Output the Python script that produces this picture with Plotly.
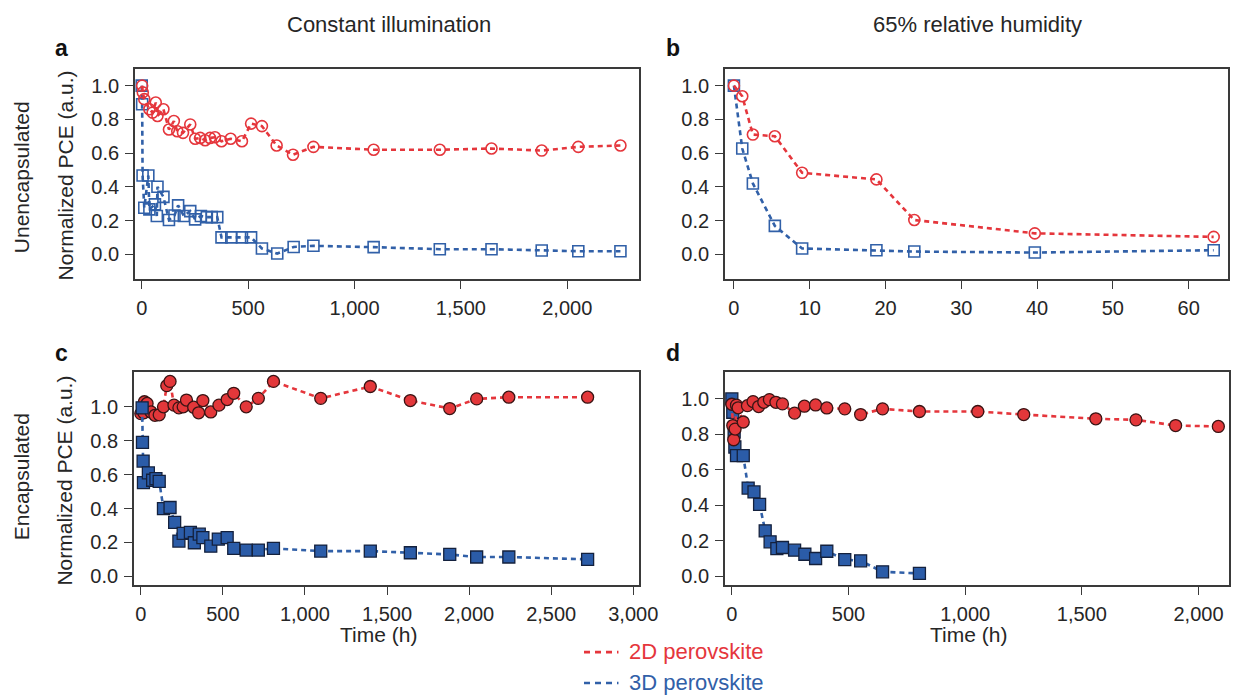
import plotly.graph_objects as go

W, H = 1252, 696

# ---- data: normalized PCE versus time ----
# a: unencapsulated, constant illumination
a_2d_t = [2, 5, 12, 36, 51, 66, 74, 102, 128, 151, 167, 194, 228, 251, 275, 298, 321, 344, 375,
          418, 471, 514, 565, 634, 711, 807, 1090, 1401, 1644, 1880, 2052, 2250]
a_2d_v = [1.0, 0.96, 0.92, 0.86, 0.84, 0.90, 0.82, 0.86, 0.74, 0.79, 0.73, 0.72, 0.77, 0.685, 0.69,
          0.676, 0.69, 0.694, 0.67, 0.685, 0.67, 0.775, 0.76, 0.645, 0.59, 0.637, 0.62, 0.62, 0.627,
          0.615, 0.637, 0.645]
a_3d_t = [0, 2, 4, 12, 31, 36, 62, 71, 74, 102, 128, 154, 171, 198, 228, 251, 278, 306, 329, 355,
          375, 421, 471, 514, 565, 637, 714, 807, 1090, 1401, 1644, 1880, 2052, 2250]
a_3d_v = [1.0, 0.89, 0.467, 0.276, 0.467, 0.266, 0.296, 0.227, 0.40, 0.34, 0.203, 0.23, 0.29, 0.227,
          0.256, 0.207, 0.227, 0.22, 0.22, 0.22, 0.10, 0.10, 0.10, 0.10, 0.034, 0.004, 0.043, 0.05,
          0.042, 0.03, 0.03, 0.022, 0.018, 0.018]

# b: unencapsulated, 65% relative humidity
b_2d_t = [0, 1.1, 2.5, 5.4, 9.0, 18.8, 23.8, 39.7, 63.3]
b_2d_v = [1.0, 0.937, 0.71, 0.70, 0.483, 0.444, 0.203, 0.124, 0.103]
b_3d_t = [0, 1.1, 2.5, 5.4, 9.0, 18.8, 23.8, 39.7, 63.3]
b_3d_v = [1.0, 0.627, 0.42, 0.168, 0.034, 0.024, 0.016, 0.01, 0.024]

# c: encapsulated, constant illumination
c_2d_t = [0, 12, 18, 22, 38, 62, 86, 112, 138, 158, 178, 202, 232, 258, 278, 322, 352, 378, 426,
          476, 526, 566, 642, 716, 808, 1096, 1398, 1642, 1882, 2046, 2242, 2722]
c_2d_v = [0.96, 0.99, 0.965, 1.03, 1.02, 0.97, 0.95, 0.953, 1.0, 1.125, 1.15, 1.01, 0.994, 1.0,
          1.04, 0.998, 0.965, 1.037, 0.97, 1.01, 1.043, 1.08, 1.0, 1.05, 1.15, 1.05, 1.12, 1.037,
          0.99, 1.047, 1.057, 1.057]
c_3d_t = [8, 10, 14, 16, 46, 72, 92, 112, 138, 178, 206, 232, 258, 302, 326, 356, 378, 426, 472,
          526, 566, 642, 716, 808, 1096, 1398, 1642, 1882, 2046, 2242, 2722]
c_3d_v = [0.994, 0.79, 0.68, 0.553, 0.61, 0.567, 0.576, 0.56, 0.40, 0.406, 0.318, 0.208, 0.253,
          0.259, 0.198, 0.249, 0.228, 0.178, 0.22, 0.228, 0.165, 0.155, 0.155, 0.165, 0.149, 0.149,
          0.139, 0.129, 0.114, 0.114, 0.10]

# d: encapsulated, 65% relative humidity
d_2d_t = [0, 4, 8, 14, 20, 27, 49, 67, 91, 115, 137, 161, 189, 217, 269, 311, 359, 407, 484, 552,
          646, 804, 1054, 1251, 1560, 1732, 1902, 2085]
d_2d_v = [0.97, 0.85, 0.77, 0.83, 0.965, 0.95, 0.87, 0.962, 0.985, 0.957, 0.981, 0.996, 0.981,
          0.972, 0.92, 0.959, 0.966, 0.949, 0.944, 0.912, 0.944, 0.929, 0.929, 0.912, 0.888, 0.882,
          0.85, 0.845]
d_3d_t = [0, 4, 10, 13, 20, 49, 70, 95, 119, 143, 164, 193, 217, 269, 313, 359, 407, 484, 552,
          646, 804]
d_3d_v = [1.0, 0.925, 0.813, 0.729, 0.68, 0.68, 0.498, 0.476, 0.406, 0.257, 0.195, 0.157, 0.163,
          0.148, 0.125, 0.101, 0.142, 0.095, 0.088, 0.026, 0.017]

col_titles = ["Constant illumination", "65% relative humidity"]
row_titles = ["Unencapsulated", "Encapsulated"]
series_names = ["2D perovskite", "3D perovskite"]
y_ticks = [0.0, 0.2, 0.4, 0.6, 0.8, 1.0]

RED = "#e5363c"
BLUE = "#3160a8"
RED_FILL = "#e3373a"
BLUE_FILL = "#2b5ca8"
INK = "#262626"
FONT = "Liberation Sans, Arial, sans-serif"


def px_x(x):
    return x / W


def px_y(y):
    return 1 - y / H


# panel frames in pixels: (left, right, top, bottom)
frames = {
    "a": (137, 649, 69, 280),
    "b": (736, 1247, 69, 280),
    "c": (136, 649, 373, 587),
    "d": (736, 1248, 373, 587),
}
ranges = {
    "a": dict(x=[-32, 2338], y=[-0.148, 1.10], dtick=500),
    "b": dict(x=[-1.2, 65.2], y=[-0.148, 1.10], dtick=10),
    "c": dict(x=[-42, 3036], y=[-0.053, 1.206], dtick=500),
    "d": dict(x=[-30, 2131], y=[-0.05, 1.152], dtick=500),
}

fig = go.Figure()


def dashed(t, v, color, xa, ya, symbol, filled):
    if filled:
        marker = dict(symbol=symbol, size=12,
                      color=RED_FILL if color == RED else BLUE_FILL,
                      line=dict(color="#3a1414" if color == RED else "#14213d", width=1.3))
    else:
        marker = dict(symbol=symbol + "-open", size=11, color=color, line=dict(width=1.6))
    fig.add_trace(go.Scatter(
        x=t, y=v, mode="lines+markers", xaxis=xa, yaxis=ya, showlegend=False,
        line=dict(color=color, width=2.6, dash="5px,4px"), marker=marker))


panels = [
    ("a", "x", "y", a_2d_t, a_2d_v, a_3d_t, a_3d_v, False, True),
    ("b", "x2", "y2", b_2d_t, b_2d_v, b_3d_t, b_3d_v, False, True),
    ("c", "x3", "y3", c_2d_t, c_2d_v, c_3d_t, c_3d_v, True, False),
    ("d", "x4", "y4", d_2d_t, d_2d_v, d_3d_t, d_3d_v, True, True),
]

axis_common = dict(
    showline=True, mirror=True, linecolor="#3a3a3a", linewidth=1.5,
    ticks="outside", ticklen=8, tickwidth=1.3, tickcolor="#3a3a3a",
    showgrid=False, zeroline=False,
    tickfont=dict(family=FONT, size=20, color=INK),
)

for key, xa, ya, t2, v2, t3, v3, filled, red_top in panels:
    if red_top:
        dashed(t3, v3, BLUE, xa, ya, "square", filled)
        dashed(t2, v2, RED, xa, ya, "circle", filled)
    else:
        dashed(t2, v2, RED, xa, ya, "circle", filled)
        dashed(t3, v3, BLUE, xa, ya, "square", filled)

    l, r, t, b = frames[key]
    rg = ranges[key]
    xname = "xaxis" if xa == "x" else "xaxis" + xa[1:]
    yname = "yaxis" if ya == "y" else "yaxis" + ya[1:]
    fig.update_layout(**{
        xname: dict(axis_common, domain=[px_x(l), px_x(r)], range=rg["x"], anchor=ya,
                    dtick=rg["dtick"], tick0=0, tickformat=",d", ticklabelstandoff=2),
        yname: dict(axis_common, domain=[px_y(b), px_y(t)], range=rg["y"], anchor=xa,
                    tickmode="array", tickvals=y_ticks, tickformat=".1f",
                    ticklabelstandoff=2),
    })

ann = []


def text(x, y, s, size=21, color=INK, angle=0, bold=False, xanchor="center"):
    ann.append(dict(x=px_x(x), y=px_y(y), xref="paper", yref="paper", text=s,
                    showarrow=False, textangle=angle, xanchor=xanchor, yanchor="middle",
                    font=dict(family=FONT, size=size, color=color,
                              weight="bold" if bold else "normal")))


# column headings
text(395, 25, col_titles[0], size=22)
text(993, 25, col_titles[1], size=22)
# panel letters
for letter, (x, y) in {"a": (62, 48), "b": (683, 48), "c": (62, 354), "d": (683, 354)}.items():
    text(x, y, letter, size=23, bold=True, color="#111111")
# row headings and y-axis titles
text(22, 178, row_titles[0], size=21, angle=-90)
text(22, 478, row_titles[1], size=21, angle=-90)
text(66, 176, "Normalized PCE (a.u.)", size=21, angle=-90)
text(66, 482, "Normalized PCE (a.u.)", size=21, angle=-90)
# x-axis titles
text(384, 636, "Time (h)", size=21)
text(983, 636, "Time (h)", size=21)
# key
text(637, 653, series_names[0], size=22, color=RED, xanchor="left")
text(637, 684, series_names[1], size=22, color=BLUE, xanchor="left")

shapes = [
    dict(type="line", xref="paper", yref="paper", x0=px_x(593), x1=px_x(628),
         y0=px_y(654), y1=px_y(654), line=dict(color=RED, width=2.6, dash="6px,5px")),
    dict(type="line", xref="paper", yref="paper", x0=px_x(593), x1=px_x(628),
         y0=px_y(685), y1=px_y(685), line=dict(color=BLUE, width=2.6, dash="6px,5px")),
]

fig.update_layout(
    width=W, height=H, margin=dict(l=0, r=0, t=0, b=0),
    paper_bgcolor="white", plot_bgcolor="white",
    annotations=ann, shapes=shapes, showlegend=False,
    font=dict(family=FONT, color=INK),
)

fig.write_html("out.html")
